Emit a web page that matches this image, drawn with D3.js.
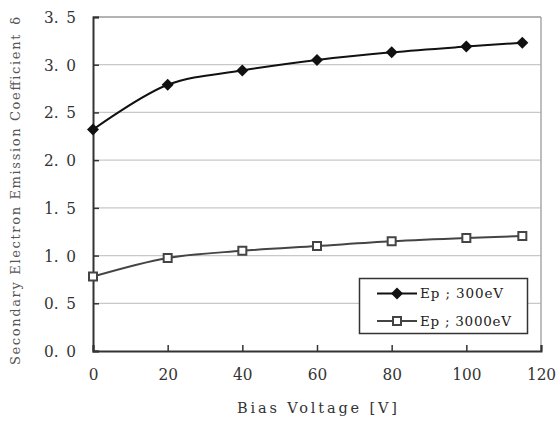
<!DOCTYPE html>
<html>
<head>
<meta charset="utf-8">
<script src="https://cdn.jsdelivr.net/npm/d3@7"></script>
<style>
  html, body { margin: 0; padding: 0; background: #fff; }
  svg { display: block; }
  .serif { font-family: "DejaVu Serif Condensed", "DejaVu Serif", serif; font-stretch: condensed; }
  .ttl { font-family: "DejaVu Serif", serif; }
</style>
</head>
<body>
<svg id="chart" width="559" height="424"></svg>
<script>
// ---- data ----
const biasVoltage = [0, 20, 40, 60, 80, 100, 115];
const ep300 = [2.32, 2.79, 2.94, 3.05, 3.13, 3.19, 3.23];
const ep3000 = [0.78, 0.975, 1.05, 1.10, 1.15, 1.185, 1.205];
const seriesNames = ["Ep ; 300eV", "Ep ; 3000eV"];
const xTicks = [0, 20, 40, 60, 80, 100, 120];
const yTicks = [0, 0.5, 1.0, 1.5, 2.0, 2.5, 3.0, 3.5];
const xTitle = "Bias Voltage [V]";
const yTitle = "Secondary Electron Emission Coefficient\u2002\u03b4";

const svg = d3.select("#chart");
const L = 93, R = 541, T = 17, B = 351;
const x = d3.scaleLinear().domain([0, 120]).range([L, R]);
const y = d3.scaleLinear().domain([0, 3.5]).range([B, T]);

// gridlines
svg.append("g").selectAll("line").data(yTicks.filter(v => v > 0 && v < 3.5)).join("line")
  .attr("x1", L).attr("x2", R)
  .attr("y1", d => y(d)).attr("y2", d => y(d))
  .attr("stroke", "#c8c8c8").attr("stroke-width", 1.3);

// plot border top/right
svg.append("line").attr("x1", L).attr("x2", R).attr("y1", y(3.5)).attr("y2", y(3.5))
  .attr("stroke", "#9a9a9a").attr("stroke-width", 1.5);
svg.append("line").attr("x1", R).attr("x2", R).attr("y1", T).attr("y2", B)
  .attr("stroke", "#a8a8a8").attr("stroke-width", 1.5);

// axes
const xAxis = d3.axisBottom(x).tickValues(xTicks).tickSize(-6).tickPadding(14)
  .tickFormat(d => String(d));
const gx = svg.append("g").attr("transform", `translate(0,${B})`).call(xAxis);
gx.attr("font-family", null).attr("font-size", null);
gx.select(".domain").attr("stroke", "#333").attr("stroke-width", 2);
gx.selectAll(".tick line").attr("stroke", "#333").attr("stroke-width", 1.5);
gx.selectAll(".tick text").attr("class", "serif").style("font-size", "17px")
  .attr("fill", "#333").attr("dy", "0.75em").attr("y", 16);

const yAxis = d3.axisLeft(y).tickValues(yTicks).tickSize(-6).tickPadding(16)
  .tickFormat(d => d3.format(".1f")(d).replace(".", ".\u2002"));
const gy = svg.append("g").attr("transform", `translate(${L},0)`).call(yAxis);
gy.attr("font-family", null).attr("font-size", null);
gy.select(".domain").attr("stroke", "#333").attr("stroke-width", 2);
gy.selectAll(".tick line").attr("stroke", "#333").attr("stroke-width", 1.5);
gy.selectAll(".tick text").attr("class", "serif").style("font-size", "17px")
  .attr("fill", "#333").attr("x", -17);

// titles
svg.append("text").attr("class", "ttl").attr("x", 237).attr("y", 413)
  .attr("textLength", 160).attr("lengthAdjust", "spacing")
  .style("font-size", "14.5px")
  .attr("fill", "#333").text(xTitle);
svg.append("text").attr("class", "ttl").attr("transform", "translate(20,365) rotate(-90)")
  .attr("textLength", 348).attr("lengthAdjust", "spacing")
  .style("font-size", "13px")
  .attr("fill", "#555").text(yTitle);

// lines
const line = d3.line().x(d => x(d[0])).y(d => y(d[1])).curve(d3.curveCatmullRom.alpha(0.5));
const d300 = biasVoltage.map((v, i) => [v, ep300[i]]);
const d3000 = biasVoltage.map((v, i) => [v, ep3000[i]]);

svg.append("path").datum(d3000).attr("d", line).attr("fill", "none")
  .attr("stroke", "#444").attr("stroke-width", 2);
svg.append("path").datum(d300).attr("d", line).attr("fill", "none")
  .attr("stroke", "#111").attr("stroke-width", 2);

const diamond = d3.symbol().type(d3.symbolSquare).size(72);
const square = d3.symbol().type(d3.symbolSquare).size(64);

svg.append("g").selectAll("path").data(d300).join("path")
  .attr("d", diamond)
  .attr("transform", d => `translate(${x(d[0])},${y(d[1])}) rotate(45)`)
  .attr("fill", "#111");
svg.append("g").selectAll("path").data(d3000).join("path")
  .attr("d", square)
  .attr("transform", d => `translate(${x(d[0])},${y(d[1])})`)
  .attr("fill", "#fff").attr("stroke", "#444").attr("stroke-width", 2);

// legend
const lg = svg.append("g");
lg.append("rect").attr("x", 359.5).attr("y", 278.5).attr("width", 168).attr("height", 55)
  .attr("fill", "#fff").attr("stroke", "#333").attr("stroke-width", 1.5);
const ly = [293.5, 321];
const lw = [83, 91];
lg.append("line").attr("x1", 377).attr("x2", 417).attr("y1", ly[0]).attr("y2", ly[0])
  .attr("stroke", "#111").attr("stroke-width", 2);
lg.append("path").attr("d", diamond).attr("transform", `translate(397,${ly[0]}) rotate(45)`)
  .attr("fill", "#111");
lg.append("line").attr("x1", 377).attr("x2", 417).attr("y1", ly[1]).attr("y2", ly[1])
  .attr("stroke", "#444").attr("stroke-width", 2);
lg.append("path").attr("d", square).attr("transform", `translate(397,${ly[1]})`)
  .attr("fill", "#fff").attr("stroke", "#444").attr("stroke-width", 2);
lg.selectAll("text.lab").data(seriesNames).join("text").attr("class", "lab ttl")
  .attr("x", 420).attr("y", (d, i) => ly[i]).attr("dy", "0.35em")
  .attr("textLength", (d, i) => lw[i]).attr("lengthAdjust", "spacing")
  .style("font-size", "13.5px")
  .attr("fill", "#222").text(d => d);
</script>
</body>
</html>
